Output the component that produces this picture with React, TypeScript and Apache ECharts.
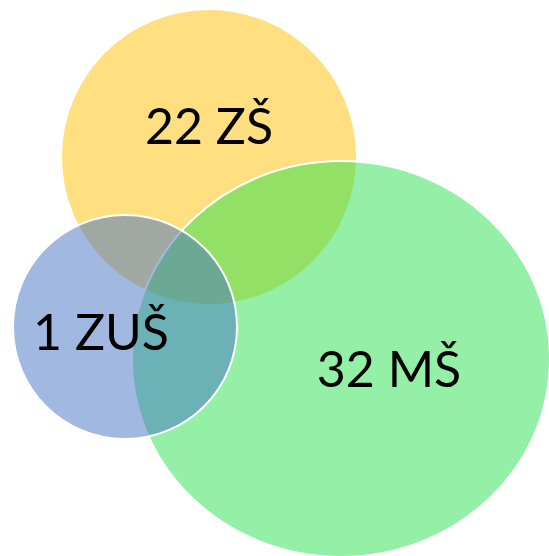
import React, { useEffect, useRef } from "react";
import * as echarts from "echarts";

// Sets of the Venn diagram (drawing order: ZŠ, MŠ, ZUŠ)
const setNames = ["ZŠ", "MŠ", "ZUŠ"];
const setCounts = [22, 32, 1];
// Set layout in diagram units (0..549 × 0..556)
const centerX = [209, 341, 125];
const centerY = [157, 359, 327];
const radiusX = [148, 209, 112];
const radiusY = [148, 198, 112];
// Label anchor points (diagram units)
const labelX = [209, 389, 101];
const labelY = [125, 368, 331];

const fillColors = [
  "rgba(255,192,0,0.5)",
  "rgba(39,225,77,0.5)",
  "rgba(68,114,196,0.5)",
];

export default function App() {
  const ref = useRef<HTMLDivElement>(null);
  useEffect(() => {
    if (!ref.current) return;
    const chart = echarts.init(ref.current, null, { renderer: "svg" });
    const circleData = setNames.map((_, i) => [centerX[i], centerY[i], radiusX[i], radiusY[i]]);
    const labelData = setNames.map((n, i) => [labelX[i], labelY[i], setCounts[i]]);
    chart.setOption({
      animation: false,
      backgroundColor: "#ffffff",
      grid: { left: 0, right: 0, top: 0, bottom: 0 },
      xAxis: { type: "value", min: 0, max: 549, show: false },
      yAxis: { type: "value", min: 0, max: 556, inverse: true, show: false },
      series: [
        {
          type: "custom",
          clip: false,
          silent: true,
          data: circleData,
          renderItem: (params: any, api: any) => {
            const i = params.dataIndex;
            const c = api.coord([api.value(0), api.value(1)]);
            const s = api.size([api.value(2), api.value(3)]);
            return {
              type: "ellipse",
              shape: { cx: c[0], cy: c[1], rx: s[0], ry: s[1] },
              style: { fill: fillColors[i], stroke: "#ffffff", lineWidth: 2 },
            };
          },
        },
        {
          type: "custom",
          clip: false,
          silent: true,
          z: 5,
          data: labelData,
          renderItem: (params: any, api: any) => {
            const i = params.dataIndex;
            const c = api.coord([api.value(0), api.value(1)]);
            return {
              type: "text",
              x: c[0],
              y: c[1],
              style: {
                text: `${setCounts[i]} ${setNames[i]}`,
                fontFamily: "Lato",
                fontSize: 50,
                fill: "#000000",
                align: "center",
                verticalAlign: "middle",
              },
            };
          },
        },
      ],
    });
    return () => chart.dispose();
  }, []);
  return (
    <div
      ref={ref}
      style={{ position: "fixed", left: 0, top: 0, width: 549, height: 556 }}
    />
  );
}
